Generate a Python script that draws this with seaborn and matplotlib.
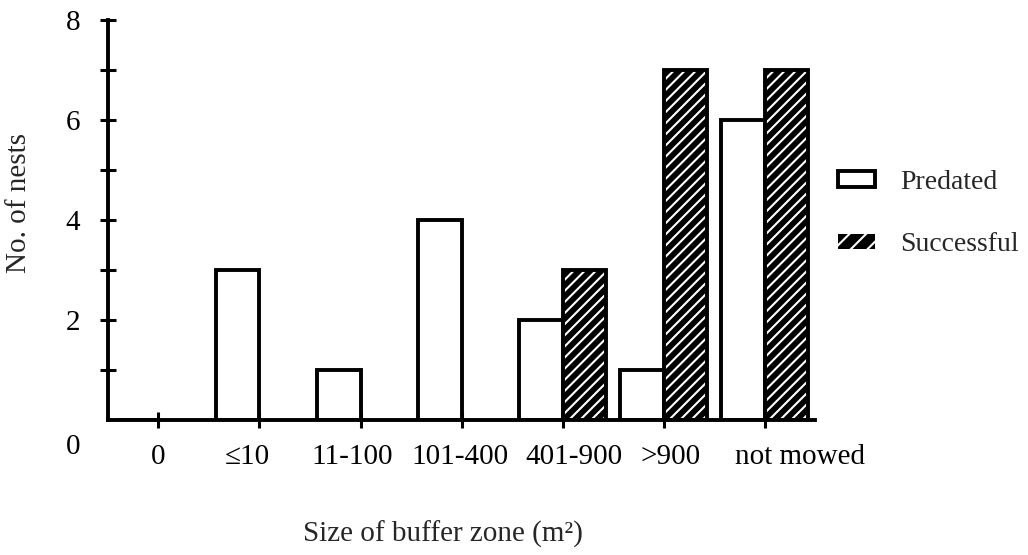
import matplotlib
matplotlib.use("Agg")
import matplotlib.pyplot as plt
import matplotlib.transforms as mtransforms
from matplotlib.patches import Patch, Rectangle
import pandas as pd
import seaborn as sns

# Data
categories = ["0", "\u226410", "11-100", "101-400", "401-900", ">900", "not mowed"]
predated = [0, 3, 1, 4, 2, 1, 6]
successful = [0, 0, 0, 0, 3, 7, 7]
series = ["Predated", "Successful"]

sns.set_theme(style="white")
plt.rcParams['font.family'] = ['Liberation Serif', 'DejaVu Serif']
plt.rcParams['hatch.linewidth'] = 1.5

FS = 21
LW = 2.8

df = pd.DataFrame({
    "size": categories * 2,
    "status": [series[0]] * len(categories) + [series[1]] * len(categories),
    "nests": predated + successful,
})

fig = plt.figure(figsize=(10.28, 5.55), dpi=100)
ax = fig.add_axes([0.105, 0.2432, 0.688, 0.7208])

sns.barplot(data=df, x="size", y="nests", hue="status", order=categories,
            hue_order=series, palette={"Predated": "white", "Successful": "black"},
            width=0.86, edgecolor="black", linewidth=LW, saturation=1,
            legend=False, ax=ax)

# successful bars: black with white diagonal hatching and a black rim
for bar in ax.containers[1]:
    bar.set_hatch("///")
    bar.set_edgecolor("white")
    bar.set_linewidth(0)
    if bar.get_height() > 0:
        ax.add_patch(Rectangle(bar.get_xy(), bar.get_width(), bar.get_height(),
                               fill=False, edgecolor="black", linewidth=LW, zorder=3))

ax.set_xlim(-0.5, 6.5)
ax.set_ylim(0, 8)
sns.despine(ax=ax)
for side in ["left", "bottom"]:
    ax.spines[side].set_linewidth(LW)
    ax.spines[side].set_color("black")

ax.set_yticks(range(0, 9))
ax.set_yticklabels(["0", "", "2", "", "4", "", "6", "", "8"], fontsize=FS)
ax.set_xticks(range(len(categories)))
ax.set_xticklabels(categories, fontsize=FS)
ax.tick_params(axis="y", left=True, direction="inout", length=12, width=2.2, pad=14, colors="black")
ax.tick_params(axis="x", bottom=True, direction="inout", length=12, width=2.2, pad=11, colors="black")

# no tick mark in the corner, and the "0" sits lower than the axis
ax.yaxis.get_major_ticks()[0].tick1line.set_visible(False)
lab0 = ax.get_yticklabels()[0]
lab0.set_transform(lab0.get_transform() + mtransforms.ScaledTranslation(0, -17 / 72, fig.dpi_scale_trans))

# x labels are not quite centred under their ticks in the original (pixels)
x_shift = [0, -12, -8, -2, 11, 7, 35]
for lab, dx in zip(ax.get_xticklabels(), x_shift):
    lab.set_transform(lab.get_transform() + mtransforms.ScaledTranslation(dx / 100, 0, fig.dpi_scale_trans))

ax.set_xlabel("Size of buffer zone (m\u00b2)", fontsize=FS)
ax.set_ylabel("No. of nests", fontsize=FS)
ax.xaxis.set_label_coords(0.474, -0.2525)
ax.yaxis.set_label_coords(-0.1075, 0.5425)

handles = [Patch(facecolor="white", edgecolor="black", linewidth=LW),
           Patch(facecolor="black", edgecolor="white", hatch="//", linewidth=0)]
fig.legend(handles, series, loc="center left", bbox_to_anchor=(0.815, 0.615),
           frameon=False, fontsize=20, handlelength=1.33, handleheight=0.47,
           labelspacing=1.35, handletextpad=0.9, borderpad=0, borderaxespad=0)

fig.savefig("out.png", dpi=100)
